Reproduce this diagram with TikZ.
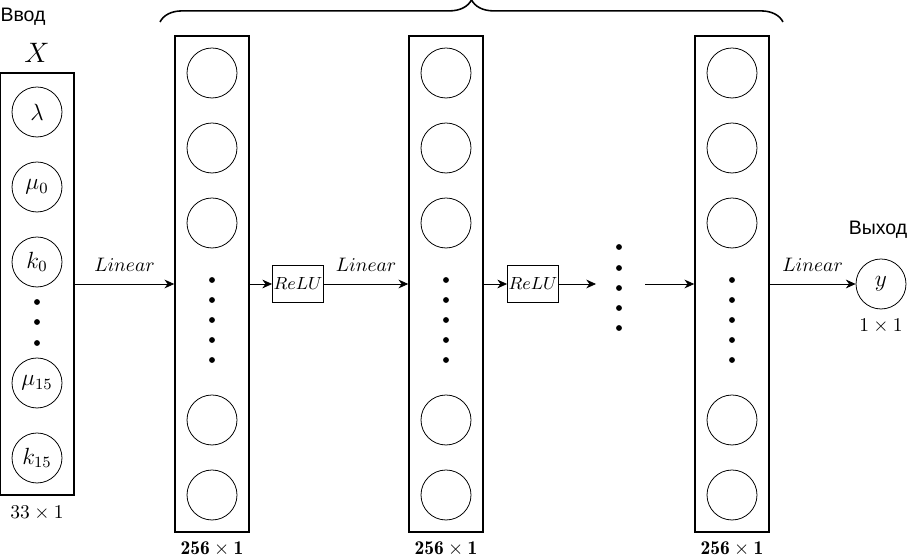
\documentclass[tikz,border=0pt]{standalone}
\usepackage{amsmath}
\usepackage{amssymb}
\usepackage{fontspec}
\newfontfamily\rufont{Liberation Sans}
\usetikzlibrary{decorations.pathreplacing,arrows.meta}

\begin{document}
\begin{tikzpicture}[x=0.018cm,y=-0.018cm,>={Stealth[length=5pt,width=4.5pt]},
  hidbox/.style={draw,thick,minimum width=1.332cm,minimum height=8.928cm,inner sep=0pt},
  neuron/.style={draw,circle,minimum size=0.9cm,inner sep=0pt,font=\large},
  relubox/.style={draw,minimum width=0.92cm,minimum height=0.68cm,inner sep=0pt,font=\small}]
  \useasboundingbox (0,0) rectangle (909,557);
  % input vector
  \node[draw,thick,minimum width=1.332cm,minimum height=7.596cm,inner sep=0pt] (in) at (37,284) {};
  \node (inlab) at (23,17) {\rufont Ввод};
  \node (xlab) at (37,53) {\Large $X$};
  \node (insz) at (37,513) {$33\times1$};
  \node[neuron] (i1) at (37,112) {$\lambda$};
  \node[neuron] (i2) at (37,187) {$\mu_0$};
  \node[neuron] (i3) at (37,262) {$k_0$};
  \node[neuron] (i4) at (37,383) {$\mu_{15}$};
  \node[neuron] (i5) at (37,458) {$k_{15}$};
  \foreach \y in {302,322,343} \fill (37,\y) circle (1.5pt);
  % hidden layers
  \node[hidbox] (L1) at (212,284) {};
  \node[hidbox] (L2) at (446,284) {};
  \node[hidbox] (L3) at (732,284) {};
  \node (L1sz) at (212,549) {$\mathbf{256\times1}$};
  \node (L2sz) at (446,549) {$\mathbf{256\times1}$};
  \node (L3sz) at (732,549) {$\mathbf{256\times1}$};
  \foreach \px/\cn in {212/a,446/b,732/c}
    \foreach \y/\k in {73/1,148/2,223/3,420/4,495/5}
      \node[neuron] (\cn\k) at (\px,\y) {};
  \foreach \px in {212,446,732}
    \foreach \y in {280,300,320,340,360}
      \fill (\px,\y) circle (1.5pt);
  \node[relubox] (r1) at (298,284) {$ReLU$};
  \node[relubox] (r2) at (533,284) {$ReLU$};
  \foreach \y in {247,268,288,308,328} \fill (619,\y) circle (1.5pt);
  \coordinate (gapin) at (596,284);
  \coordinate (gapout) at (645,284);
  % output
  \node[neuron] (out) at (881,284) {$y$};
  \node (outlab) at (878,230) {\rufont Выход};
  \node (outsz) at (881,326) {$1\times1$};
  % connections
  \draw[->] (in.east) -- node[above=3pt] {$Linear$} (L1.west);
  \draw[->] (L1.east) -- (r1.west);
  \draw[->] (r1.east) -- node[above=3pt] {$Linear$} (L2.west);
  \draw[->] (L2.east) -- (r2.west);
  \draw[->] (r2.east) -- (gapin);
  \draw[->] (gapout) -- (L3.west);
  \draw[->] (L3.east) -- node[above=3pt] {$Linear$} (out.west);
  % hidden block brace
  \draw[thick,decorate,decoration={brace,amplitude=0.4cm}] (160,22) -- (783,22);
\end{tikzpicture}
\end{document}
